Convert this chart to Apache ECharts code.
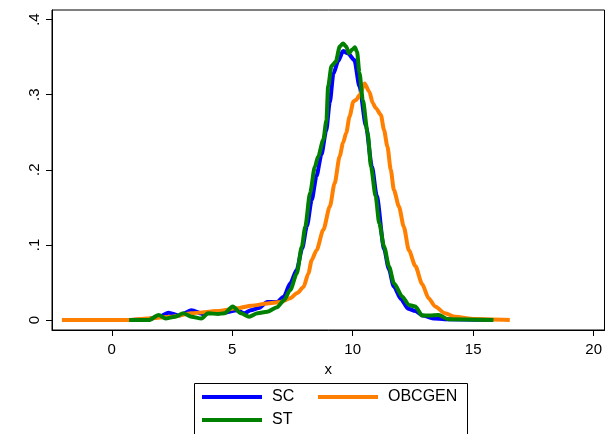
<!DOCTYPE html>
<html>
<head>
<meta charset="utf-8">
<script src="https://cdn.jsdelivr.net/npm/echarts@6/dist/echarts.min.js"></script>
<style>
  html, body { margin: 0; padding: 0; background: #fff; }
  #main { width: 605px; height: 434px; }
</style>
</head>
<body>
<div id="main"></div>
<script>
// kernel density curves
const scX = [0.85, 1.5, 2.0, 2.36, 2.8, 3.31, 3.8, 4.27, 4.7, 5.2, 5.5, 5.77, 6.1, 6.45, 6.86, 7.14, 7.41, 7.68, 7.9, 8.1, 8.3, 8.5, 8.7, 8.9, 9.05, 9.2, 9.4, 9.6, 9.8, 10.07, 10.28, 10.55, 10.8, 11.0, 11.3, 11.5, 11.7, 12.0, 12.3, 12.6, 12.9, 13.4, 13.8, 15.8]
const scY = [0, 0.001, 0.005, 0.0097, 0.006, 0.013, 0.008, 0.011, 0.01, 0.013, 0.009, 0.013, 0.016, 0.024, 0.024, 0.031, 0.049, 0.067, 0.095, 0.125, 0.16, 0.192, 0.22, 0.252, 0.29, 0.328, 0.345, 0.358, 0.355, 0.346, 0.311, 0.258, 0.204, 0.165, 0.095, 0.068, 0.045, 0.028, 0.015, 0.012, 0.006, 0.002, 0.001, 0]

const obcX = [-2.07, 0.7, 1.5, 2.5, 3.3, 4.4, 5.2, 5.8, 6.45, 7.0, 7.4, 7.7, 7.96, 8.16, 8.3, 8.5, 8.78, 9.05, 9.25, 9.46, 9.6, 9.73, 9.87, 10.03, 10.14, 10.3, 10.49, 10.69, 10.83, 10.96, 11.17, 11.3, 11.44, 11.58, 11.71, 11.92, 12.12, 12.33, 12.6, 12.88, 13.15, 13.42, 13.83, 14.24, 15.06, 16.52]
const obcY = [0, 0, 0.002, 0.0044, 0.009, 0.012, 0.0155, 0.019, 0.022, 0.024, 0.029, 0.036, 0.044, 0.062, 0.08, 0.093, 0.12, 0.151, 0.182, 0.218, 0.236, 0.249, 0.271, 0.291, 0.293, 0.3, 0.315, 0.304, 0.289, 0.282, 0.273, 0.253, 0.231, 0.2, 0.173, 0.151, 0.124, 0.093, 0.072, 0.048, 0.029, 0.018, 0.009, 0.0044, 0.0013, 0]

const stX = [0.72, 1.54, 1.95, 2.22, 2.63, 2.97, 3.31, 3.72, 4.0, 4.41, 4.68, 5.02, 5.36, 5.7, 6.05, 6.45, 6.86, 7.14, 7.41, 7.68, 7.89, 8.03, 8.23, 8.43, 8.57, 8.78, 8.91, 8.98, 9.12, 9.3, 9.46, 9.6, 9.73, 9.84, 9.98, 10.09, 10.18, 10.28, 10.42, 10.62, 10.76, 10.95, 11.1, 11.3, 11.51, 11.71, 12.06, 12.33, 12.6, 12.88, 13.2, 13.56, 13.97, 15.84]
const stY = [0, 0, 0.0067, 0.002, 0.0044, 0.009, 0.0044, 0.002, 0.009, 0.008, 0.009, 0.018, 0.009, 0.0044, 0.009, 0.011, 0.017, 0.026, 0.04, 0.062, 0.098, 0.124, 0.169, 0.204, 0.218, 0.24, 0.266, 0.311, 0.338, 0.344, 0.364, 0.368, 0.364, 0.355, 0.36, 0.363, 0.357, 0.329, 0.293, 0.249, 0.204, 0.165, 0.129, 0.098, 0.071, 0.049, 0.031, 0.02, 0.018, 0.006, 0.006, 0.0067, 0.001, 0]

const xTicks = [0, 5, 10, 15, 20]
const yTicks = [0, 0.1, 0.2, 0.3, 0.4]

function pairs(xs, ys) {
  return xs.map((x, i) => [x, ys[i]])
}

const font = 'Liberation Sans, Arial, sans-serif'
let myChart = echarts.init(document.getElementById('main'))

function line(name, color, xs, ys) {
  return {
    name: name,
    type: 'line',
    data: pairs(xs, ys),
    showSymbol: false,
    smooth: 0.25,
    smoothMonotone: 'x',
    color: color,
    lineStyle: { width: 4, color: color, join: 'round', cap: 'butt' },
    emphasis: { disabled: true },
    animation: false
  }
}

myChart.setOption({
  backgroundColor: '#fff',
  animation: false,
  grid: {
    left: 52, top: 10, width: 560, height: 320,
    show: true, borderColor: '#000', borderWidth: 1, backgroundColor: '#fff'
  },
  xAxis: {
    type: 'value',
    min: -2.48, max: 20.45,
    name: 'x', nameLocation: 'middle', nameGap: 21,
    nameTextStyle: { fontFamily: font, fontSize: 15, color: '#000' },
    axisLine: { show: true, onZero: false, lineStyle: { color: '#000', width: 1 } },
    axisTick: { show: true, length: 6, lineStyle: { color: '#000' }, customValues: xTicks },
    axisLabel: { customValues: xTicks, fontFamily: font, fontSize: 15, color: '#000', margin: 12 },
    splitLine: { show: false }
  },
  yAxis: {
    type: 'value',
    min: -0.0133, max: 0.4127,
    axisLine: { show: true, onZero: false, lineStyle: { color: '#000', width: 1 } },
    axisTick: { show: true, length: 6, lineStyle: { color: '#000' }, customValues: yTicks },
    axisLabel: {
      customValues: yTicks, rotate: 90, fontFamily: font, fontSize: 15, color: '#000', margin: 10,
      formatter: v => v === 0 ? '0' : String(+v.toFixed(1)).replace(/^0/, '')
    },
    splitLine: { show: false }
  },
  legend: [
    {
      data: ['SC', 'ST'], orient: 'vertical', left: 202, top: 389, padding: 0,
      icon: 'rect', itemWidth: 60, itemHeight: 4, itemGap: 7, selectedMode: false,
      textStyle: { fontFamily: font, fontSize: 16, color: '#000', padding: [0, 0, 0, 5] }
    },
    {
      data: ['OBCGEN'], orient: 'vertical', left: 318, top: 389, padding: 0,
      icon: 'rect', itemWidth: 60, itemHeight: 4, selectedMode: false,
      textStyle: { fontFamily: font, fontSize: 16, color: '#000', padding: [0, 0, 0, 5] }
    }
  ],
  graphic: [{
    type: 'rect',
    shape: { x: 194.5, y: 383.5, width: 273, height: 60 },
    style: { fill: 'none', stroke: '#000', lineWidth: 1 },
    silent: true
  }],
  series: [
    line('SC', '#0000ff', scX, scY),
    line('OBCGEN', '#ff7f00', obcX, obcY),
    line('ST', '#008000', stX, stY)
  ]
})
</script>
</body>
</html>
